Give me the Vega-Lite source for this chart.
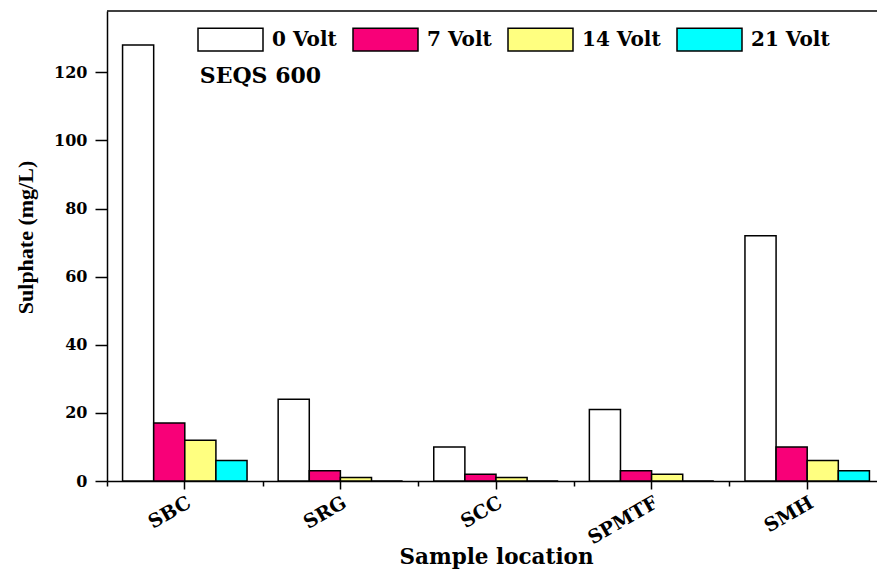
{
  "$schema": "https://vega.github.io/schema/vega-lite/v6.json",
  "autosize": {"type": "none"},
  "padding": {"left": 107, "top": 11, "right": 0, "bottom": 89},
  "width": 770,
  "height": 470,
  "background": "white",
  "config": {"view": {"stroke": null}, "font": "DejaVu Serif"},
  "data": {"values": [
    {"Location": "SBC", "Voltage": "0 Volt", "Sulphate": 128},
    {"Location": "SBC", "Voltage": "7 Volt", "Sulphate": 17},
    {"Location": "SBC", "Voltage": "14 Volt", "Sulphate": 12},
    {"Location": "SBC", "Voltage": "21 Volt", "Sulphate": 6},
    {"Location": "SRG", "Voltage": "0 Volt", "Sulphate": 24},
    {"Location": "SRG", "Voltage": "7 Volt", "Sulphate": 3},
    {"Location": "SRG", "Voltage": "14 Volt", "Sulphate": 1},
    {"Location": "SRG", "Voltage": "21 Volt", "Sulphate": 0},
    {"Location": "SCC", "Voltage": "0 Volt", "Sulphate": 10},
    {"Location": "SCC", "Voltage": "7 Volt", "Sulphate": 2},
    {"Location": "SCC", "Voltage": "14 Volt", "Sulphate": 1},
    {"Location": "SCC", "Voltage": "21 Volt", "Sulphate": 0},
    {"Location": "SPMTF", "Voltage": "0 Volt", "Sulphate": 21},
    {"Location": "SPMTF", "Voltage": "7 Volt", "Sulphate": 3},
    {"Location": "SPMTF", "Voltage": "14 Volt", "Sulphate": 2},
    {"Location": "SPMTF", "Voltage": "21 Volt", "Sulphate": 0},
    {"Location": "SMH", "Voltage": "0 Volt", "Sulphate": 72},
    {"Location": "SMH", "Voltage": "7 Volt", "Sulphate": 10},
    {"Location": "SMH", "Voltage": "14 Volt", "Sulphate": 6},
    {"Location": "SMH", "Voltage": "21 Volt", "Sulphate": 3}
  ]},
  "layer": [
    {
      "mark": {"type": "bar", "stroke": "black", "strokeWidth": 1.5},
      "encoding": {
        "x": {
          "field": "Location", "type": "nominal",
          "sort": ["SBC", "SRG", "SCC", "SPMTF", "SMH"],
          "scale": {"domain": ["SBC", "SRG", "SCC", "SPMTF", "SMH"], "range": [0, 778], "paddingInner": 0, "paddingOuter": 0},
          "axis": {
            "orient": "bottom",
            "title": "Sample location",
            "labelAngle": -30, "labelAlign": "right", "labelBaseline": "top",
            "labelFont": "DejaVu Serif", "labelFontWeight": "bold", "labelFontSize": 19, "labelColor": "black",
            "labelPadding": 4,
            "tickSize": 8, "tickWidth": 1.5, "tickColor": "black",
            "domainColor": "black", "domainWidth": 1.5,
            "titleFont": "DejaVu Serif", "titleFontWeight": "bold", "titleFontSize": 21.5, "titleColor": "black",
            "titleBaseline": "alphabetic", "titleY": 82
          }
        },
        "xOffset": {
          "field": "Voltage", "type": "nominal",
          "sort": ["0 Volt", "7 Volt", "14 Volt", "21 Volt"],
          "scale": {"paddingInner": 0, "paddingOuter": 0.5}
        },
        "y": {
          "field": "Sulphate", "type": "quantitative",
          "scale": {"domain": [0, 138], "nice": false},
          "axis": {
            "title": "Sulphate (mg/L)",
            "values": [0, 10, 20, 30, 40, 50, 60, 70, 80, 90, 100, 110, 120, 130],
            "labelExpr": "datum.value % 20 === 0 ? datum.label : ''",
            "labelOverlap": false,
            "tickSize": {"condition": {"test": "datum.value % 20 === 0", "value": 12}, "value": 6},
            "tickWidth": 1.5, "tickColor": "black",
            "domainColor": "black", "domainWidth": 1.5,
            "grid": false,
            "labelFont": "DejaVu Serif", "labelFontWeight": "bold", "labelFontSize": 16, "labelColor": "black",
            "labelPadding": 8,
            "titleFont": "Liberation Serif", "titleFontWeight": "bold", "titleFontSize": 22, "titleColor": "black",
            "titleAngle": -90, "titleAlign": "center", "titleBaseline": "middle",
            "titleX": -82, "titleY": 226
          }
        },
        "color": {
          "field": "Voltage", "type": "nominal",
          "sort": ["0 Volt", "7 Volt", "14 Volt", "21 Volt"],
          "scale": {"domain": ["0 Volt", "7 Volt", "14 Volt", "21 Volt"], "range": ["#FFFFFF", "#F80078", "#FFFF80", "#00FFFF"]},
          "legend": {
            "orient": "none", "legendX": 90, "legendY": -5, "direction": "horizontal",
            "title": null,
            "symbolType": "M-1,-0.35H1V0.35H-1Z", "symbolSize": 4225,
            "symbolStrokeColor": "black", "symbolStrokeWidth": 1.5, "symbolOpacity": 1,
            "labelFont": "DejaVu Serif", "labelFontWeight": "bold", "labelFontSize": 20, "labelColor": "black",
            "labelOffset": 8, "columnPadding": 13, "padding": 0, "labelLimit": 300
          }
        }
      }
    },
    {
      "mark": {"type": "bar", "opacity": 0},
      "encoding": {
        "x": {
          "field": "Location", "type": "nominal",
          "sort": ["SBC", "SRG", "SCC", "SPMTF", "SMH"],
          "axis": {
            "orient": "bottom", "tickBand": "extent", "labels": false, "domain": false, "title": null,
            "tickSize": 5, "tickWidth": 1.5, "tickColor": "black"
          }
        }
      }
    },
    {
      "data": {"values": [{"top": 138}]},
      "mark": {"type": "rule", "color": "black", "strokeWidth": 1.5},
      "encoding": {"y": {"field": "top", "type": "quantitative"}}
    },
    {
      "data": {"values": [{"label": "SEQS 600", "Location": "SBC", "level": 117}]},
      "mark": {"type": "text", "align": "left", "baseline": "alphabetic", "dx": 15, "font": "DejaVu Serif", "fontWeight": "bold", "fontSize": 22, "color": "black"},
      "encoding": {
        "x": {"field": "Location", "type": "nominal", "sort": ["SBC", "SRG", "SCC", "SPMTF", "SMH"], "axis": null},
        "y": {"field": "level", "type": "quantitative"},
        "text": {"field": "label"}
      }
    }
  ],
  "resolve": {"axis": {"x": "independent"}}
}
